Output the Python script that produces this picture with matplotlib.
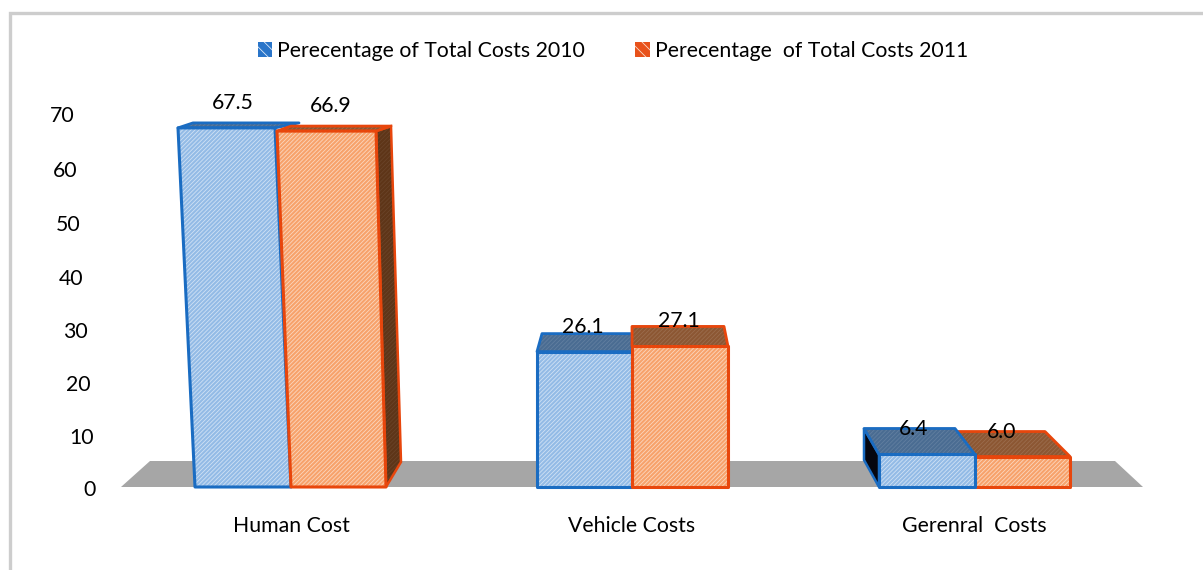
"""Percentage of total costs, 2010 vs 2011 (pseudo-3D column chart)."""
import matplotlib
matplotlib.use("Agg")
import matplotlib.pyplot as plt
from matplotlib.lines import Line2D
from matplotlib.patches import Patch, Polygon

plt.rcParams["font.family"] = ["Lato", "DejaVu Sans"]
plt.rcParams["hatch.linewidth"] = 0.6

categories = ["Human Cost", "Vehicle Costs", "Gerenral  Costs"]
values_2010 = [67.5, 26.1, 6.4]
values_2011 = [66.9, 27.1, 6.0]
series_names = ["Perecentage of Total Costs 2010", "Perecentage  of Total Costs 2011"]
y_ticks = [0, 10, 20, 30, 40, 50, 60, 70]

# figure is laid out in px on x, values on y
W, H = 1203, 570
Y0_PX = 487
PX_PER_UNIT = 5.32
FONT = 15.3

BLUE = dict(edge="#1a6cc2", face="#93bbe6", top="#4a6c92", side="#05060f")
ORANGE = dict(edge="#e8460c", face="#f7a26b", top="#8c5733", side="#5e3518")

CAT_X = [291, 632, 974]
GROUP_SCALE = [1.0, 0.975, 0.955]   # perspective shrink per group
# per bar: base l/r, top l/r, back edge l/r, depth px
GEOM_2010 = [(195, 291, 178, 275, 193, 299, 5),
             (537, 632, 537, 632, 542, 632, 18),
             (879, 975, 879, 975, 864, 955, 26)]
GEOM_2011 = [(291, 386, 277, 376, 291, 391, 5),
             (632, 728, 632, 728, 632, 724, 20),
             (975, 1070, 975, 1070, 955, 1045, 25)]
LABEL_X_2010 = [233, 583, 914]
LABEL_X_2011 = [331, 679, 1002]
TICK_X = [90, 82, 78, 75, 71, 68, 65, 62]
TICK_DY = [3, 4, 4, 5, 5, 4, 3, 1]   # labels sit a little off the value scale


def px_h(p):
    return p / PX_PER_UNIT


def hatched(ax, pts, face, hatch_col, z, hatch="////////"):
    ax.add_patch(Polygon(pts, closed=True, facecolor=face, edgecolor=hatch_col, lw=0,
                         hatch=hatch, zorder=z))


def draw_box(ax, val, scale, geom, col, z):
    bl, br, tl, tr, backl, backr, depth = geom
    top = val * scale
    back = top + px_h(depth)
    front = [(bl, 0), (br, 0), (tr, top), (tl, top)]
    lid = [(tl, top), (tr, top), (backr, back), (backl, back)]
    hatched(ax, lid, col["top"], "#ffffff20", z)
    ax.add_patch(Polygon(lid, closed=True, fill=False, edgecolor=col["edge"], lw=2,
                         joinstyle="round", zorder=z + 0.1))
    hatched(ax, front, col["face"], "#ffffff90", z + 0.2)
    ax.add_patch(Polygon(front, closed=True, fill=False, edgecolor=col["edge"], lw=2.2,
                         joinstyle="round", zorder=z + 0.3))


fig = plt.figure(figsize=(W / 100, H / 100), dpi=100)
ax = fig.add_axes([0, 0, 1, 1])
ax.set_xlim(0, W)
ax.set_ylim(-(H - Y0_PX) / PX_PER_UNIT, Y0_PX / PX_PER_UNIT)
ax.axis("off")

# frame: only left and top survive in the picture
fig.add_artist(Line2D([9.5 / W, 9.5 / W, 1], [0, 1 - 12.5 / H, 1 - 12.5 / H],
                      color="#cdcdcd", lw=2.4, solid_joinstyle="miter"))

# floor
ax.add_patch(Polygon([(121, 0), (150, px_h(26)), (1115, px_h(26)), (1143, 0)],
                     closed=True, facecolor="#a6a6a6", edgecolor="none", zorder=1))

# side faces (only two are visible)
s0 = values_2011[0] * GROUP_SCALE[0]
side_r = [(376, s0), (391, s0 + px_h(5)), (401, px_h(25)), (386, 0)]
hatched(ax, side_r, ORANGE["side"], "#ffffff12", 2)
ax.add_patch(Polygon(side_r, closed=True, fill=False, edgecolor=ORANGE["edge"], lw=1.8, zorder=2.1))
s2 = values_2010[2] * GROUP_SCALE[2]
side_l = [(879, s2), (864, s2 + px_h(26)), (864, px_h(27)), (879, 0)]
ax.add_patch(Polygon(side_l, closed=True, facecolor=BLUE["side"], edgecolor=BLUE["edge"], lw=1.8, zorder=2))

# boxes; the last group has its blue box in front
for i in range(len(categories)):
    z_blue, z_orange = (5, 3) if i == 2 else (3, 5)
    draw_box(ax, values_2010[i], GROUP_SCALE[i], GEOM_2010[i], BLUE, z_blue)
    draw_box(ax, values_2011[i], GROUP_SCALE[i], GEOM_2011[i], ORANGE, z_orange)
    ax.text(LABEL_X_2010[i], values_2010[i] * GROUP_SCALE[i] + px_h(25), f"{values_2010[i]:.1f}",
            ha="center", va="center", fontsize=FONT, color="#000000", zorder=8)
    ax.text(LABEL_X_2011[i], values_2011[i] * GROUP_SCALE[i] + px_h(25), f"{values_2011[i]:.1f}",
            ha="center", va="center", fontsize=FONT, color="#000000", zorder=8)
    ax.text(CAT_X[i], px_h(-39), categories[i], ha="center", va="center",
            fontsize=FONT, color="#000000")

for tx, tick, dy in zip(TICK_X, y_ticks, TICK_DY):
    ax.text(tx, tick - px_h(dy), str(tick), ha="center", va="center", fontsize=FONT, color="#000000")

handles = [Patch(facecolor="#2a75c9", edgecolor="#dbe8f7", lw=0, hatch="\\\\\\", label=series_names[0]),
           Patch(facecolor="#e8521b", edgecolor="#fbdccb", lw=0, hatch="\\\\\\", label=series_names[1])]
ax.legend(handles=handles, loc="center", bbox_to_anchor=(613 / W, 1 - 51 / H), ncol=2,
          frameon=False, fontsize=FONT, handlelength=0.68, handleheight=0.68,
          handletextpad=0.25, columnspacing=2.35, labelcolor="#000000")

fig.savefig("out.png", dpi=100)
plt.close(fig)
